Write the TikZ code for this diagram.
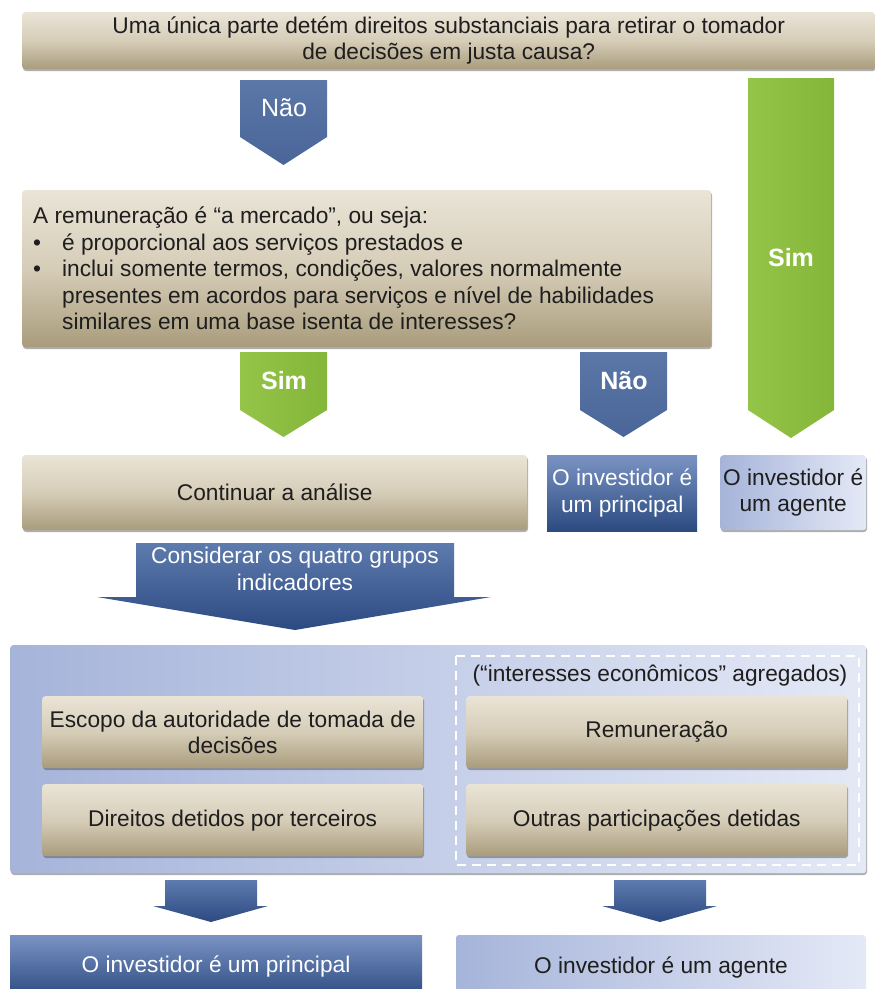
\documentclass[tikz,border=0pt]{standalone}
\usepackage{fontspec}
\setmainfont{Liberation Sans}
\usetikzlibrary{shadows}
\definecolor{tanT}{HTML}{EAE4D7}
\definecolor{tanM}{HTML}{D6CDB8}
\definecolor{tanB}{HTML}{A99C7C}
\definecolor{dbT}{HTML}{7A93C3}
\definecolor{dbB}{HTML}{2B4A80}
\definecolor{lbL}{HTML}{A6B4DA}
\definecolor{lbR}{HTML}{E4E9F6}
\definecolor{arT}{HTML}{5B77A8}
\definecolor{arB}{HTML}{4A6698}
\definecolor{bigT}{HTML}{5E7BAE}
\definecolor{bigB}{HTML}{2C4A82}
\definecolor{grL}{HTML}{94C448}
\definecolor{grR}{HTML}{84B63A}
\definecolor{txt}{HTML}{1E1E1E}
\tikzset{
  softshadow/.style={drop shadow={shadow xshift=0.8pt, shadow yshift=-1.8pt, opacity=0.45, fill=black!70}},
  tanbox/.style={rounded corners=3pt, top color=tanT, bottom color=tanB, middle color=tanM, softshadow, text=txt, inner sep=0pt},
  darkbox/.style={top color=dbT, bottom color=dbB, text=white, inner sep=0pt},
  lightbox/.style={rounded corners=3pt, left color=lbL, right color=lbR, text=txt, inner sep=0pt},
  bluearrow/.style={top color=arT, bottom color=arB},
  bigarrow/.style={top color=bigT, bottom color=bigB},
  greenarrow/.style={left color=grL, right color=grR},
  lbl/.style={text=white, inner sep=0pt},
  biglbl/.style={text=white, inner sep=0pt, font=\fontsize{25}{30}\selectfont},
}
\newcommand\pentashape[6]{\path[#1] (#2,#4) -- (#3,#4) -- (#3,#5) -- ({(#2+#3)/2},#6) -- (#2,#5) -- cycle;}
\newcommand\wingshape[8]{\path[#1] (#2,#4) -- (#3,#4) -- (#3,#5) -- (#8,#5) -- ({(#2+#3)/2},#6) -- (#7,#5) -- (#2,#5) -- cycle;}
\begin{document}
\begin{tikzpicture}[x=1pt,y=-1pt,font=\fontsize{22.7}{26.5}\selectfont]
\useasboundingbox (0,0) rectangle (875,989);

% Top question
\node[tanbox, anchor=north west, minimum width=853pt, minimum height=57pt, align=center] (q1) at (22,12)
  {Uma única parte detém direitos substanciais para retirar o tomador\\de decisões em justa causa?};

% Não arrow (top)
\pentashape{bluearrow}{240}{327}{80}{137}{165}
\node[biglbl] (nao1) at (284,108) {Não};

% Tall green Sim arrow
\pentashape{greenarrow}{748}{834}{78}{410}{438}
\node[biglbl, font=\fontsize{25}{30}\selectfont\bfseries] (simtall) at (791,258) {Sim};

% Second question
\node[tanbox, anchor=north west, minimum width=689pt, minimum height=157pt] (q2) at (22,190) {};
\node[anchor=north west, text=txt, inner sep=0pt] (q2text) at (33,205) {%
  \begin{tabular}{@{}p{29pt}@{}l@{}}
  \multicolumn{2}{@{}l@{}}{A remuneração é “a mercado”, ou seja:}\\
  \textbullet & é proporcional aos serviços prestados e\\
  \textbullet & inclui somente termos, condições, valores normalmente\\
   & presentes em acordos para serviços e nível de habilidades\\
   & similares em uma base isenta de interesses?
  \end{tabular}};

% Sim / Não arrows
\pentashape{greenarrow}{240}{327}{352}{410}{437}
\node[biglbl, font=\fontsize{25}{30}\selectfont\bfseries] (sim2) at (284,381) {Sim};
\pentashape{bluearrow}{580}{667}{352}{410}{437}
\node[biglbl, font=\fontsize{25}{30}\selectfont\bfseries] (nao2) at (624,381) {Não};

% Third row
\node[tanbox, anchor=north west, minimum width=505pt, minimum height=75pt] (cont) at (22,455) {Continuar a análise};
\node[darkbox, anchor=north west, minimum width=150pt, minimum height=76pt, align=center] (princ1) at (547,455)
  {O investidor é\\um principal};
\node[lightbox, softshadow, anchor=north west, minimum width=146pt, minimum height=75pt, align=center] (agent1) at (720,455)
  {O investidor é\\um agente};

% Considerar arrow
\wingshape{bigarrow}{136}{454}{543}{597}{630}{97}{491}
\node[lbl, align=center] (consid) at (295,569) {Considerar os quatro grupos\\indicadores};

% Panel
\node[lightbox, softshadow, anchor=north west, minimum width=856pt, minimum height=228pt] (panel) at (10,645) {};
\draw[white, line width=2pt, dash pattern=on 9pt off 6pt] (456,656) rectangle (859,865);
\node[text=txt, inner sep=0pt] (econ) at (660,676) {(“interesses econômicos” agregados)};

\node[tanbox, anchor=north west, minimum width=381pt, minimum height=72pt, align=center] (escopo) at (42,696)
  {Escopo da autoridade de tomada de\\decisões};
\node[tanbox, anchor=north west, minimum width=381pt, minimum height=72pt] (direitos) at (42,784)
  {Direitos detidos por terceiros};
\node[tanbox, anchor=north west, minimum width=381pt, minimum height=72pt] (remun) at (466,696)
  {Remuneração};
\node[tanbox, anchor=north west, minimum width=381pt, minimum height=72pt] (outras) at (466,784)
  {Outras participações detidas};

% bottom arrows
\wingshape{bigarrow}{165}{257}{880}{906}{922}{153}{268}
\wingshape{bigarrow}{614}{706}{880}{906}{922}{602}{717}

% Bottom results
\path[top color=dbT, bottom color=dbB!85!dbT] (10,935) rectangle (422,989);
\node[lbl] (princ2) at (216,966) {O investidor é um principal};
\path[left color=lbL, right color=lbR] (456,989) -- (456,938) arc[start angle=180, end angle=90, radius=3pt] -- (863,935) arc[start angle=90, end angle=0, radius=3pt] -- (866,989) -- cycle;
\node[text=txt, inner sep=0pt] (agent2) at (661,967) {O investidor é um agente};
\end{tikzpicture}
\end{document}
